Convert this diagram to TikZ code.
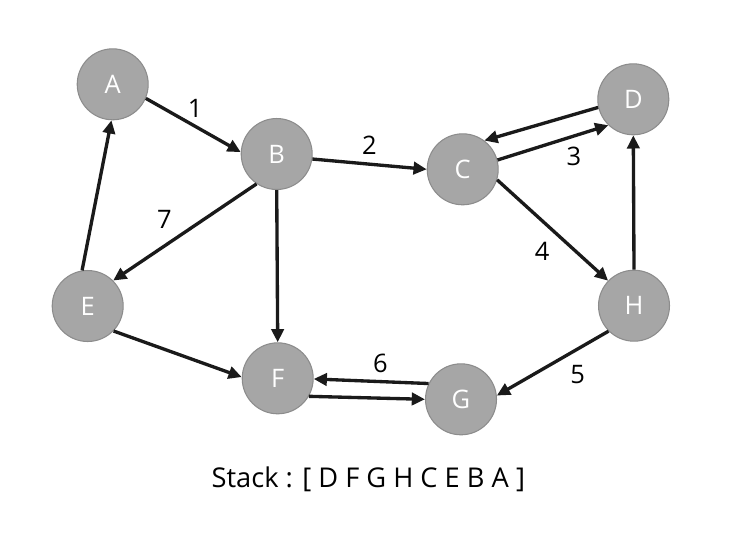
\documentclass[tikz,border=0pt]{standalone}
\usepackage{fontspec}
\setmainfont{Open Sans}
\usetikzlibrary{arrows.meta,positioning}
\definecolor{nodegray}{HTML}{A6A6A6}
\definecolor{rimgray}{HTML}{8C8C8C}
\definecolor{inkblack}{HTML}{1A1A1A}
\tikzset{
  vertex/.style = {circle, draw=rimgray, line width=0.6pt, fill=nodegray,
                   minimum size=1.42cm, inner sep=0pt, text=white,
                   font=\fontsize{14.5}{17}\selectfont},
  post/.style   = {-{Triangle[length=7.5pt,width=7pt]}, draw=inkblack, line width=1.9pt},
  weight/.style = {font=\fontsize{14.5}{17}\selectfont, text=black}
}

\begin{document}
\begin{tikzpicture}[x=0.02cm, y=-0.02cm]
  \useasboundingbox (0,0) rectangle (742,532);
  % vertices
  \node[vertex] (A) at (112.7,84.3) {A};
  \node[vertex] (B) at (276.7,154) {B};
  \node[vertex] (C) at (462.7,169.3) {C};
  \node[vertex] (D) at (633.3,99.3) {D};
  \node[vertex] (E) at (87.7,306) {E};
  \node[vertex] (F) at (277.7,378.3) {F};
  \node[vertex] (G) at (461,399.3) {G};
  \node[vertex] (H) at (634,305.7) {H};
  % traversal edges
  \draw[post] (A.-23) -- node[weight, above=1pt, pos=0.52] (w1) {1} (B.177);
  \draw[post] (B.-8) -- node[weight, above=1pt] (w2) {2} (C.180);
  \draw[post] (C.15) -- node[weight, pos=0.69, below=2pt] (w3) {3} (D.226);
  \draw[post] (D.193) -- (C.53);
  \draw[post] (C.-17) -- node[weight, pos=0.54, below left] (w4) {4} (H.136);
  \draw[post] (H.225) -- node[weight, pos=0.41, below right] (w5) {5} (G.6);
  \draw[post] (G.154) -- node[weight, pos=0.42, above=1pt] (w6) {6} (F.-1);
  \draw[post] (F.-30) -- (G.180);
  \draw[post] (B.236) -- node[weight, pos=0.54, above left] (w7) {7} (E.45);
  % remaining edges
  \draw[post] (B.south) -- (F.north);
  \draw[post] (E.-44) -- (F.178);
  \draw[post] (E.99) -- (A.268);
  \draw[post] (H.north) -- (D.south);
  % stack
  \node[weight, anchor=base, font=\fontsize{15.5}{18}\selectfont] (stack) at (368.3,487) {Stack : [ D F G H C E B A ]};
\end{tikzpicture}
\end{document}
